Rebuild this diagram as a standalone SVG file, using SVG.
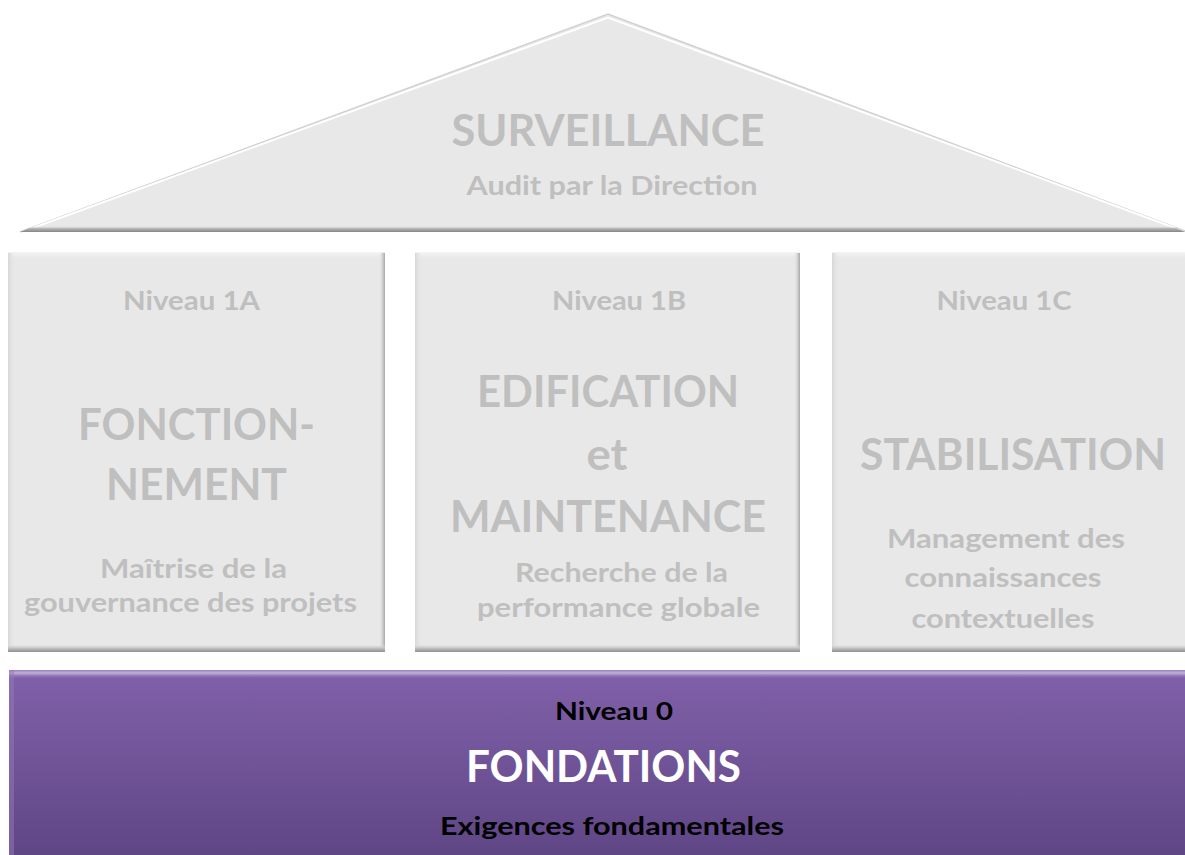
<svg xmlns="http://www.w3.org/2000/svg" width="1185" height="855" viewBox="0 0 1185 855">
  <defs>
    <linearGradient id="purpleFill" x1="0" y1="0" x2="0" y2="1">
      <stop offset="0" stop-color="#8161aa"/>
      <stop offset="1" stop-color="#5f4685"/>
    </linearGradient>
    <linearGradient id="purpleTop" x1="0" y1="0" x2="0" y2="1">
      <stop offset="0" stop-color="#9a80bd"/>
      <stop offset="0.35" stop-color="#c3b0d9"/>
      <stop offset="1" stop-color="#8161aa" stop-opacity="0"/>
    </linearGradient>
    <linearGradient id="boxBottom" x1="0" y1="0" x2="0" y2="1">
      <stop offset="0" stop-color="#e6e6e6" stop-opacity="0"/>
      <stop offset="0.5" stop-color="#c4c4c4"/>
      <stop offset="1" stop-color="#8f8f8f"/>
    </linearGradient>
    <linearGradient id="boxRight" x1="0" y1="0" x2="1" y2="0">
      <stop offset="0" stop-color="#e6e6e6" stop-opacity="0"/>
      <stop offset="0.6" stop-color="#cfcfcf"/>
      <stop offset="1" stop-color="#a8a8a8"/>
    </linearGradient>
    <linearGradient id="boxLeft" x1="0" y1="0" x2="1" y2="0">
      <stop offset="0" stop-color="#d6d6d6"/>
      <stop offset="1" stop-color="#e8e8e8" stop-opacity="0"/>
    </linearGradient>
    <linearGradient id="boxTop" x1="0" y1="0" x2="0" y2="1">
      <stop offset="0" stop-color="#f7f7f7"/>
      <stop offset="1" stop-color="#e8e8e8" stop-opacity="0"/>
    </linearGradient>
    <linearGradient id="roofBottom" x1="0" y1="0" x2="0" y2="1">
      <stop offset="0" stop-color="#e6e6e6" stop-opacity="0"/>
      <stop offset="0.4" stop-color="#b8b8b8"/>
      <stop offset="1" stop-color="#858585"/>
    </linearGradient>
  </defs>
  <style>
    .grey { fill: #e8e8e8; }
    .t { font-family: Lato, "Open Sans", "Liberation Sans", sans-serif; font-weight: 700; text-anchor: middle; }
    .g { fill: #bfbfbf; }
    .big { font-size: 43px; }
    .mid { font-size: 27px; }
    .lvl { font-size: 27px; }
    .dark { fill: #000000; }
    .white { fill: #ffffff; }
  </style>

  <rect x="0" y="0" width="1185" height="855" fill="#ffffff"/>

  <g id="roof">
    <polygon points="608,14 1185,231 1185,232 20,232" class="grey"/>
    <polyline points="20,232 608,14 1185,231" fill="none" stroke="#d2d2d2" stroke-width="1.5"/>
    <polyline points="30,229 608,17.5 1175,228" fill="none" stroke="#ffffff" stroke-width="2"/>
    <polygon points="34,226 1170,226 1185,232 20,232" fill="url(#roofBottom)"/>
    <text class="t g big" x="608" y="146" font-size="46" textLength="313" lengthAdjust="spacingAndGlyphs">SURVEILLANCE</text>
    <text class="t g mid" x="612" y="195" textLength="291" lengthAdjust="spacingAndGlyphs">Audit par la Direction</text>
  </g>

  <g id="box-1a">
    <rect x="8" y="252" width="377" height="400" class="grey"/>
    <rect x="8" y="252" width="377" height="8" fill="url(#boxTop)"/>
    <rect x="8" y="252" width="7" height="400" fill="url(#boxLeft)"/>
    <rect x="379" y="252" width="6" height="400" fill="url(#boxRight)"/>
    <rect x="8" y="644" width="377" height="8" fill="url(#boxBottom)"/>
    <line x1="8" y1="252.5" x2="385" y2="252.5" stroke="#f2f2f2" stroke-width="1"/>
    <text class="t g lvl" x="191.5" y="310" textLength="137" lengthAdjust="spacingAndGlyphs">Niveau 1A</text>
    <text class="t g big" x="196.5" y="440" textLength="237" lengthAdjust="spacingAndGlyphs">FONCTION-</text>
    <text class="t g big" x="196.5" y="500" textLength="181" lengthAdjust="spacingAndGlyphs">NEMENT</text>
    <text class="t g mid" x="193.5" y="578" textLength="187" lengthAdjust="spacingAndGlyphs">Maîtrise de la</text>
    <text class="t g mid" x="190.5" y="612" textLength="333" lengthAdjust="spacingAndGlyphs">gouvernance des projets</text>
  </g>

  <g id="box-1b">
    <rect x="415" y="252" width="385" height="400" class="grey"/>
    <rect x="415" y="252" width="385" height="8" fill="url(#boxTop)"/>
    <rect x="415" y="252" width="7" height="400" fill="url(#boxLeft)"/>
    <rect x="794" y="252" width="6" height="400" fill="url(#boxRight)"/>
    <rect x="415" y="644" width="385" height="8" fill="url(#boxBottom)"/>
    <line x1="415" y1="252.5" x2="800" y2="252.5" stroke="#f2f2f2" stroke-width="1"/>
    <text class="t g lvl" x="619" y="310" textLength="134" lengthAdjust="spacingAndGlyphs">Niveau 1B</text>
    <text class="t g big" x="608" y="407" textLength="262" lengthAdjust="spacingAndGlyphs">EDIFICATION</text>
    <text class="t g big" x="607" y="470" textLength="41" lengthAdjust="spacingAndGlyphs">et</text>
    <text class="t g big" x="608" y="532" textLength="316" lengthAdjust="spacingAndGlyphs">MAINTENANCE</text>
    <text class="t g mid" x="621.5" y="582" textLength="213" lengthAdjust="spacingAndGlyphs">Recherche de la</text>
    <text class="t g mid" x="618.5" y="617" textLength="283" lengthAdjust="spacingAndGlyphs">performance globale</text>
  </g>

  <g id="box-1c">
    <rect x="832" y="252" width="353" height="400" class="grey"/>
    <rect x="832" y="252" width="353" height="8" fill="url(#boxTop)"/>
    <rect x="832" y="252" width="7" height="400" fill="url(#boxLeft)"/>
    <rect x="832" y="644" width="353" height="8" fill="url(#boxBottom)"/>
    <line x1="832" y1="252.5" x2="1185" y2="252.5" stroke="#f2f2f2" stroke-width="1"/>
    <text class="t g lvl" x="1004" y="310" textLength="135" lengthAdjust="spacingAndGlyphs">Niveau 1C</text>
    <text class="t g big" x="1013" y="470" textLength="306" lengthAdjust="spacingAndGlyphs">STABILISATION</text>
    <text class="t g mid" x="1006" y="548" textLength="238" lengthAdjust="spacingAndGlyphs">Management des</text>
    <text class="t g mid" x="1003" y="587" textLength="197" lengthAdjust="spacingAndGlyphs">connaissances</text>
    <text class="t g mid" x="1003" y="628" textLength="183" lengthAdjust="spacingAndGlyphs">contextuelles</text>
  </g>

  <g id="box-0">
    <rect x="9" y="670" width="1176" height="185" fill="url(#purpleFill)"/>
    <rect x="9" y="670" width="1176" height="9" fill="url(#purpleTop)"/>
    <rect x="9" y="670" width="5" height="185" fill="#9479b8" opacity="0.5"/>
    <text class="t dark" x="614" y="720" font-size="25" textLength="118" lengthAdjust="spacingAndGlyphs">Niveau 0</text>
    <text class="t white" x="603.5" y="782" font-size="44" textLength="275" lengthAdjust="spacingAndGlyphs">FONDATIONS</text>
    <text class="t dark" x="612" y="835" font-size="24" textLength="344" lengthAdjust="spacingAndGlyphs">Exigences fondamentales</text>
  </g>

  <g id="connectors"/>
</svg>
